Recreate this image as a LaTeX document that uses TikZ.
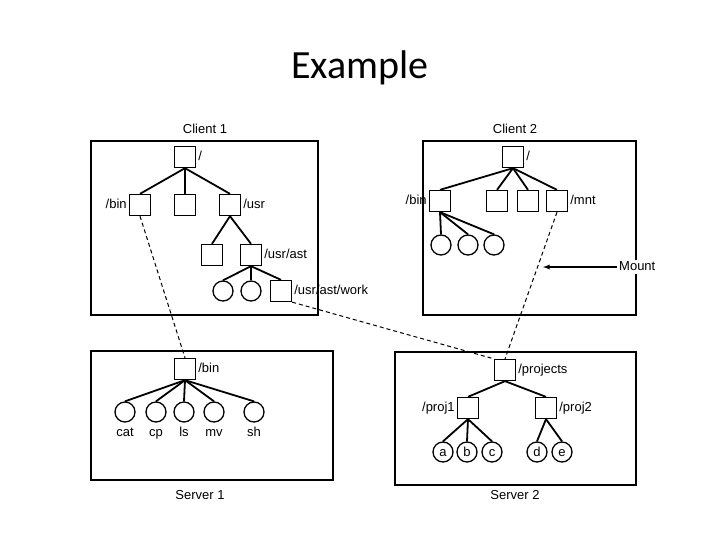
\documentclass[tikz,border=0pt]{standalone}
\usepackage{fontspec}
\setmainfont{Liberation Sans}
\newfontfamily\titlefont{Carlito}
\begin{document}
\begin{tikzpicture}[x=1pt,y=-1pt,
 sq/.style={draw,line width=1.3pt,minimum size=21pt,inner sep=0pt},
 ci/.style={draw,line width=1.3pt,circle,minimum size=20pt,inner sep=0pt,font=\fontsize{13}{13}\selectfont},
 box/.style={draw,line width=1.5pt},
 lab/.style={font=\fontsize{13}{13}\selectfont,inner sep=2pt,text height=1.6ex,text depth=.4ex},
 e/.style={line width=1.8pt},
 dsh/.style={dashed,line width=1pt,dash pattern=on 4pt off 3pt}]
\useasboundingbox (0,0) rectangle (720,540);
\node[font=\titlefont\fontsize{40}{40}\selectfont] (title) at (360,68) {Example};
% Client 1
\draw[box] (91,141) rectangle (318,315);
\node[lab] (c1t) at (205,130) {Client 1};
\node[sq] (r1) at (185,157) {}; \node[lab,anchor=west] (r1l) at (r1.east) {/};
\node[sq] (bin1) at (140,205) {}; \node[lab,anchor=east] (bin1l) at (bin1.west) {/bin};
\node[sq] (m1) at (185,205) {};
\node[sq] (usr) at (230,205) {}; \node[lab,anchor=west] (usrl) at (usr.east) {/usr};
\node[sq] (u1) at (212,255) {};
\node[sq] (ast) at (251,255) {}; \node[lab,anchor=west] (astl) at (ast.east) {/usr/ast};
\node[ci] (a1) at (223,291) {}; \node[ci] (a2) at (251,291) {};
\node[sq] (work) at (281,291) {}; \node[lab,anchor=west] (workl) at (work.east) {/usr/ast/work};
\foreach \c in {bin1,m1,usr} \draw[e] (r1.south) -- (\c.north);
\foreach \c in {u1,ast} \draw[e] (usr.south) -- (\c.north);
\foreach \c in {a1,a2,work} \draw[e] (ast.south) -- (\c.north);
% Client 2
\draw[box] (423,141) rectangle (636,315);
\node[lab] (c2t) at (515,130) {Client 2};
\node[sq] (r2) at (513,157) {}; \node[lab,anchor=west] (r2l) at (r2.east) {/};
\node[sq] (bin2) at (440,201) {}; \node[lab,anchor=east] (bin2l) at (bin2.west) {/bin};
\node[sq] (n1) at (497,201) {}; \node[sq] (n2) at (528,201) {};
\node[sq] (mnt) at (557,201) {}; \node[lab,anchor=west] (mntl) at (mnt.east) {/mnt};
\node[ci] (b1) at (441,245) {}; \node[ci] (b2) at (468,245) {}; \node[ci] (b3) at (494,245) {};
\foreach \c in {bin2,n1,n2,mnt} \draw[e] (r2.south) -- (\c.north);
\foreach \c in {b1,b2,b3} \draw[e] (bin2.south) -- (\c.north);
\node[lab,anchor=west,fill=white] (mountl) at (617,267) {Mount};
\coordinate (mp) at (543,267);
\draw[line width=1.3pt,-latex] (mountl.west) -- (mp);
% Server 1
\draw[box] (91,351) rectangle (333,480);
\node[lab] (s1t) at (200,496) {Server 1};
\node[sq] (sb) at (185,369) {}; \node[lab,anchor=west] (sbl) at (sb.east) {/bin};
\foreach \n/\x/\t in {c1/125/cat,c2/156/cp,c3/184/ls,c4/214/mv,c5/254/sh}{
  \node[ci] (\n) at (\x,412) {};
  \node[lab] (\n l) at (\x,433) {\t};
  \draw[e] (sb.south) -- (\n.north);}
% Server 2
\draw[box] (395,352) rectangle (636,485);
\node[lab] (s2t) at (515,496) {Server 2};
\node[sq] (proj) at (505,370) {}; \node[lab,anchor=west] (projl) at (proj.east) {/projects};
\node[sq] (p1) at (468,408) {}; \node[lab,anchor=east] (p1l) at (p1.west) {/proj1};
\node[sq] (p2) at (546,408) {}; \node[lab,anchor=west] (p2l) at (p2.east) {/proj2};
\draw[e] (proj.south) -- (p1.north); \draw[e] (proj.south) -- (p2.north);
\foreach \n/\x/\t/\p in {a/443/a/p1,b/467/b/p1,c/492/c/p1,d/537/d/p2,ee/562/e/p2}{
  \node[ci] (\n) at (\x,452) {};
  \node[font=\fontsize{13}{13}\selectfont,inner sep=0pt] (\n t) at (\x,452) {\vphantom{b}\t};
  \draw[e] (\p.south) -- (\n.north);}
% mounts
\draw[dsh] (bin1.south) -- (sb.north);
\draw[dsh] (work.south east) -- (proj.north west);
\draw[dsh] (mnt.south) -- (proj.north);
\end{tikzpicture}
\end{document}
